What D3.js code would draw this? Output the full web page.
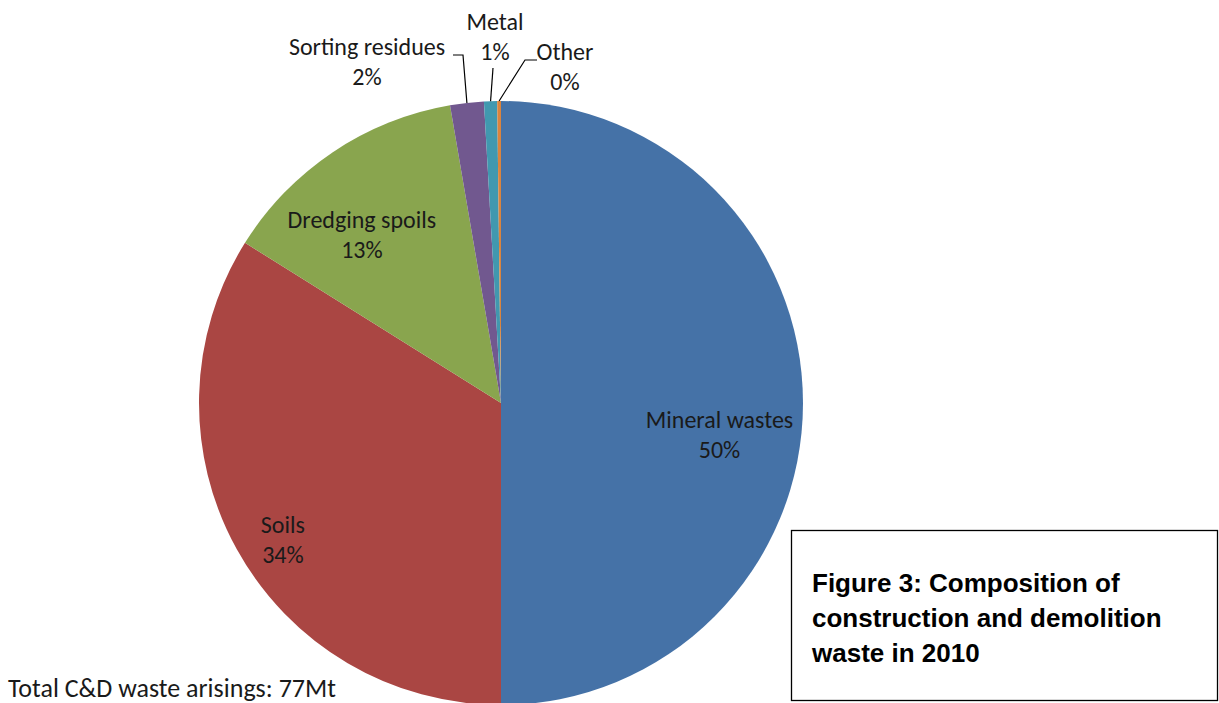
<!DOCTYPE html>
<html>
<head>
<meta charset="utf-8">
<title>Composition of C&amp;D waste 2010</title>
<script src="https://cdn.jsdelivr.net/npm/d3@7"></script>
<style>
  body { margin: 0; background: #fff; }
  svg { display: block; }
  .lbl { font-family: Carlito, Lato, "Open Sans", sans-serif; font-size: 24px; fill: #1a1a1a; }
  .total { font-family: Carlito, Lato, "Open Sans", sans-serif; font-size: 26px; fill: #1a1a1a; }
  .cap { font-family: "Liberation Sans", Arial, sans-serif; font-size: 26px; font-weight: bold; fill: #000; }
</style>
</head>
<body>
<div id="chart"></div>
<script>
const categories = ["Mineral wastes", "Soils", "Dredging spoils", "Sorting residues", "Metal", "Other"]
const values = [50.0, 33.9, 13.4, 1.8, 0.7, 0.2]
const percentLabels = ["50%", "34%", "13%", "2%", "1%", "0%"]
const colors = ["#4572A7", "#AA4643", "#89A54E", "#71588F", "#4198AF", "#DB843D"]

const W = 1219, H = 703
const cx = 501, cy = 403, R = 302

// inside labels: centroid at 0.75R plus a nudge; small slices sit outside with leaders
const inside = {0: [-8, 32], 1: [-20, 27], 2: [-13, 20]}
const outside = {
  3: {x: -134, y: -341, elbow: [-38, -348], end: [-48, -348]},
  4: {x: -6,   y: -366, elbow: [-8, -335],  end: [-8, -335]},
  5: {x: 64,   y: -336, elbow: [24, -343],  end: [36, -343]}
}

const svg = d3.select("#chart").append("svg")
  .attr("width", W).attr("height", H)

const g = svg.append("g").attr("transform", `translate(${cx},${cy})`)

const pie = d3.pie().sort(null).value(d => d.value)
const data = pie(categories.map((c, i) => ({name: c, value: values[i], pct: percentLabels[i], color: colors[i]})))

const arc = d3.arc().innerRadius(0).outerRadius(R)
const labelArc = d3.arc().innerRadius(R * 0.75).outerRadius(R * 0.75)

g.selectAll("path.slice")
  .data(data)
  .join("path")
  .attr("class", "slice")
  .attr("d", arc)
  .attr("fill", d => d.data.color)

data.forEach((d, i) => {
  let x, y
  if (inside[i] !== undefined) {
    ;[x, y] = labelArc.centroid(d)
    x += inside[i][0]; y += inside[i][1]
  } else {
    const o = outside[i]
    const mid = (d.startAngle + d.endAngle) / 2
    const p0 = [R * Math.sin(mid), -R * Math.cos(mid)]
    g.append("polyline")
      .attr("points", [p0, o.elbow, o.end].map(p => p.join(",")).join(" "))
      .attr("fill", "none")
      .attr("stroke", "#000")
      .attr("stroke-width", 1.2)
    x = o.x; y = o.y
  }
  const t = g.append("text").attr("class", "lbl").attr("text-anchor", "middle")
    .attr("transform", `translate(${x},${y - 15})`)
  t.append("tspan").attr("x", 0).attr("dy", "0.35em").text(d.data.name)
  t.append("tspan").attr("x", 0).attr("dy", 30).text(d.data.pct)
})

svg.append("text").attr("class", "total")
  .attr("x", 8).attr("y", 697)
  .text("Total C&D waste arisings: 77Mt")

svg.append("rect")
  .attr("x", 791.5).attr("y", 530.5)
  .attr("width", 426).attr("height", 170)
  .attr("fill", "#fff").attr("stroke", "#000").attr("stroke-width", 1.3)

const cap = svg.append("text").attr("class", "cap")
;["Figure 3: Composition of", "construction and demolition", "waste in 2010"].forEach((s, i) => {
  cap.append("tspan").attr("x", 812).attr("y", 592 + i * 35).text(s)
})
</script>
</body>
</html>
